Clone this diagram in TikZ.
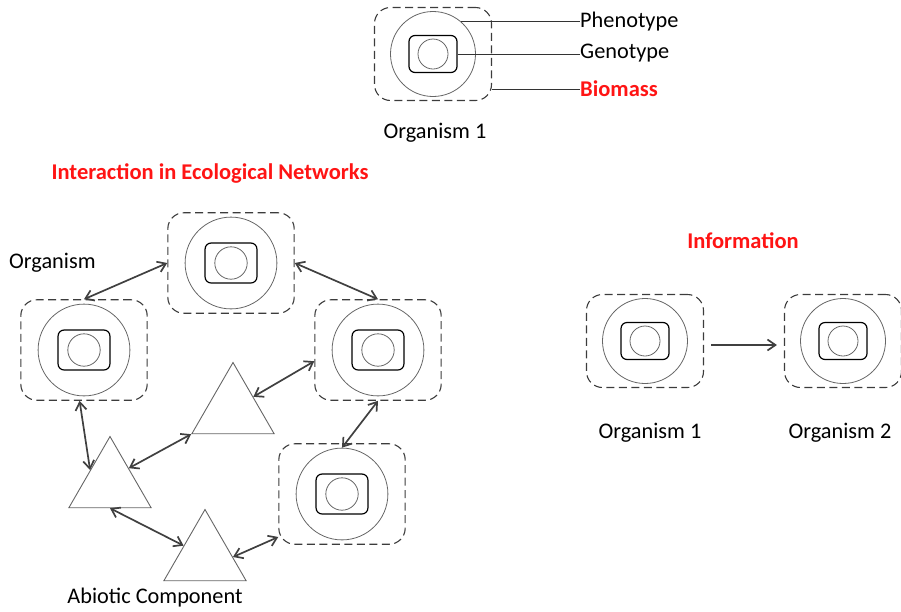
\documentclass[tikz,border=0pt]{standalone}
\usepackage{fontspec}
\setmainfont{Carlito}
\usepackage{tikz}
\usetikzlibrary{shapes.geometric,arrows.meta}
\definecolor{linkgray}{HTML}{404040}
\definecolor{cellgray}{HTML}{666666}
\definecolor{boxgray}{HTML}{3C3C3C}
\definecolor{titlered}{HTML}{FF1414}
\tikzstyle{orgbox} = [draw=boxgray, line width=1.1pt, dash pattern=on 8pt off 4.5pt, rectangle, rounded corners=16pt, inner sep=0pt]
\tikzstyle{orgcell} = [draw=cellgray, line width=0.8pt, circle, inner sep=0pt]
\tikzstyle{orggene} = [draw=black, line width=1.2pt, rectangle, rounded corners=6pt, inner sep=0pt]
\tikzstyle{orgcore} = [draw=cellgray, line width=0.8pt, circle, inner sep=0pt]
\tikzstyle{abiotic} = [draw=cellgray, line width=0.9pt, regular polygon, regular polygon sides=3, minimum size=95pt, inner sep=0pt]
\tikzstyle{link} = [draw=linkgray, line width=1.7pt, {Straight Barb[length=8pt,width=11pt]}-{Straight Barb[length=8pt,width=11pt]}]
\tikzstyle{flow} = [draw=linkgray, line width=1.7pt, -{Straight Barb[length=8pt,width=11pt]}]
\tikzstyle{pointer} = [draw=black!80, line width=0.7pt]
\tikzstyle{nametext} = [font=\fontsize{22.3}{26}\selectfont, inner sep=0pt]
\tikzstyle{redtitle} = [font=\fontsize{22.5}{26}\selectfont\bfseries, text=titlered, inner sep=0pt]
% one organism: dashed biomass box, phenotype circle, genotype box, core
\newcommand{\organism}[3][1]{%
  \node[orgbox, minimum width=#1*117pt, minimum height=#1*93pt] (#2) at (#3) {};
  \node[orgcell, minimum size=#1*85pt] (#2-cell) at (#3) {};
  \node[orggene, minimum width=#1*48pt, minimum height=#1*37pt] (#2-gene) at (#3) {};
  \node[orgcore, minimum size=#1*30pt] (#2-core) at (#3) {};
}

\begin{document}
\begin{tikzpicture}[x=1pt, y=-1pt]
    \useasboundingbox (0,0) rectangle (901,611);

    % legend of one organism
    \organism{key}{433,54}
    \node [nametext, anchor=west] (phen) at (580,22) {Phenotype};
    \node [nametext, anchor=west] (geno) at (580,53) {Genotype};
    \node [redtitle, anchor=west] (biom) at (580,89) {Biomass};
    \draw [pointer] (key-cell.49) -- (key-cell.49 -| phen.west);
    \draw [pointer] (key-gene.east) -- (key-gene.east -| geno.west);
    \draw [pointer] (key.east |- biom.west) -- (biom.west);
    \node [nametext] (keyname) at (435,133) {Organism 1};

    % interaction in ecological networks
    \node [redtitle] (nettitle) at (210,173) {Interaction in Ecological Networks};
    \organism[1.08]{top}{231,263}
    \organism[1.08]{lo}{84,350}
    \organism[1.08]{ro}{378,350}
    \organism[1.08]{bro}{342,494}
    \node [abiotic] (ct) at (233,410) {};
    \node [abiotic] (lt) at (110,484) {};
    \node [abiotic] (bt) at (205,557) {};
    \node [nametext, anchor=west] (orgname) at (9,263) {Organism};
    \node [nametext] (abioname) at (155,598) {Abiotic Component};

    \draw [link] (lo.north) -- (top.west);
    \draw [link] (top.east) -- (ro.north);
    \draw [link] (ro.190) -- (ct.33);
    \draw [link] (ro.south) -- (bro-cell.north);
    \draw [link] (lo.265) -- (lt.145);
    \draw [link] (lt.40) -- (ct.210);
    \draw [link] (lt.-90) -- (bt.152);
    \draw [link] (bt.0) -- (bro.214);

    % information flow
    \node [redtitle] (infotitle) at (743,241) {Information};
    \organism{io1}{645,341}
    \organism{io2}{843,341}
    \draw [flow, shorten <=7pt, shorten >=7pt] ([yshift=-4pt]io1.east) -- ([yshift=-4pt]io2.west);
    \node [nametext] (io1name) at (650,433) {Organism 1};
    \node [nametext] (io2name) at (840,433) {Organism 2};
\end{tikzpicture}
\end{document}
